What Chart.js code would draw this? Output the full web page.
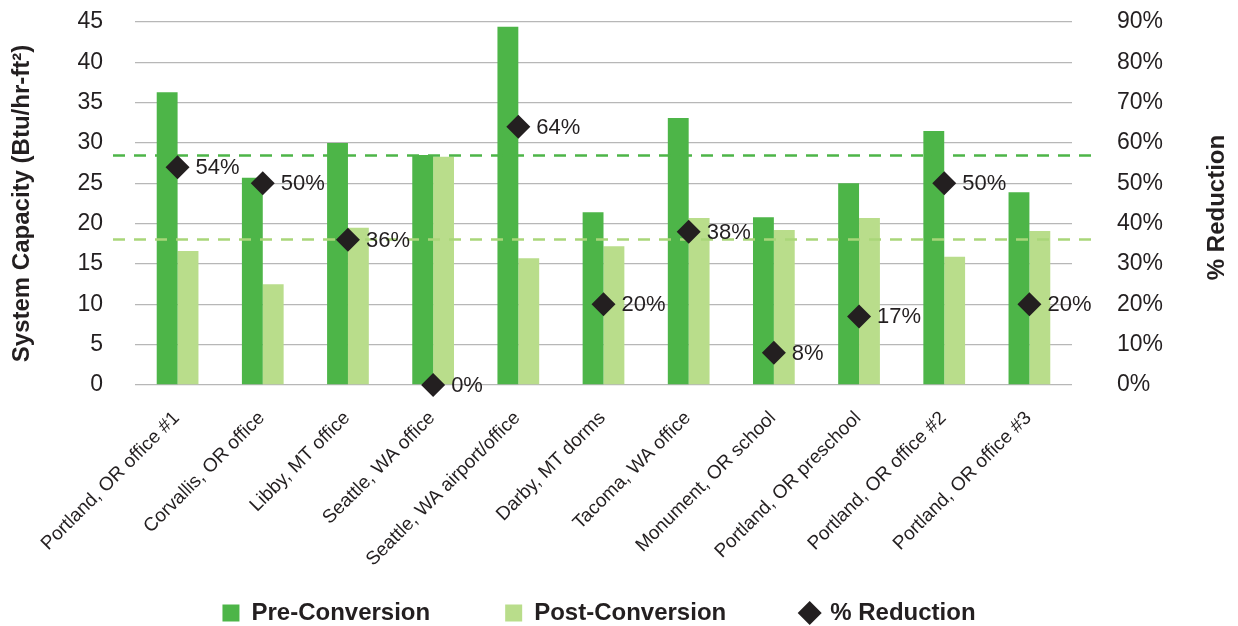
<!DOCTYPE html>
<html>
<head>
<meta charset="utf-8">
<script src="https://cdn.jsdelivr.net/npm/chart.js@4"></script>
<style>
  html, body { margin: 0; padding: 0; background: #fff; }
</style>
</head>
<body>
<canvas id="chart" width="1238" height="626"></canvas>
<script>
const sites = [
  "Portland, OR office #1", "Corvallis, OR office", "Libby, MT office",
  "Seattle, WA office", "Seattle, WA airport/office", "Darby, MT dorms",
  "Tacoma, WA office", "Monument, OR school", "Portland, OR preschool",
  "Portland, OR office #2", "Portland, OR office #3"
];
const preConversion  = [36.3, 25.7, 30.0, 28.5, 44.4, 21.4, 33.1, 20.8, 25.0, 31.5, 23.9];
const postConversion = [16.6, 12.5, 19.5, 28.3, 15.7, 17.2, 20.7, 19.2, 20.7, 15.9, 19.1];
const reduction      = [54, 50, 36, 0, 64, 20, 38, 8, 17, 50, 20];

// averages shown as dashed lines
const preAverage  = 28.5;
const postAverage = 18.1;

const green      = "#4db548";
const lightGreen = "#b9dd8b";
const lightDash  = "#a9d679";
const dark       = "#231f20";
const clear      = "rgba(0,0,0,0)";
const FONT       = '"Liberation Sans", Arial, Helvetica, sans-serif';

Chart.defaults.font.family = FONT;
Chart.defaults.color = dark;

// dashed average lines, drawn just before the diamonds so they sit over the bars
const averageLines = {
  id: 'averageLines',
  beforeDatasetDraw(chart, args) {
    if (args.index !== 2) return;
    const { ctx, chartArea, scales: { y } } = chart;
    ctx.save();
    ctx.lineWidth = 2.5;
    ctx.setLineDash([12, 9]);
    [[preAverage, green], [postAverage, lightDash]].forEach(([v, c]) => {
      const py = Math.round(y.getPixelForValue(v)) + 0.5;
      ctx.strokeStyle = c;
      ctx.beginPath();
      ctx.moveTo(chartArea.left - 22, py);
      ctx.lineTo(chartArea.right + 25, py);
      ctx.stroke();
    });
    ctx.restore();
  }
};

// "54%" etc. next to each diamond
const reductionLabels = {
  id: 'reductionLabels',
  afterDatasetsDraw(chart) {
    const { ctx } = chart;
    const meta = chart.getDatasetMeta(2);
    ctx.save();
    ctx.font = '22px ' + FONT;
    ctx.fillStyle = dark;
    ctx.textAlign = 'left';
    ctx.textBaseline = 'middle';
    meta.data.forEach((pt, i) => {
      ctx.fillText(reduction[i] + '%', pt.x + 18, pt.y + 1);
    });
    ctx.restore();
  }
};

// right axis title reads bottom-to-top like the left one
const rightTitle = {
  id: 'rightTitle',
  afterDraw(chart) {
    const { ctx, chartArea } = chart;
    ctx.save();
    ctx.translate(chart.width - 21, (chartArea.top + chartArea.bottom) / 2 + 4);
    ctx.rotate(-Math.PI / 2);
    ctx.font = 'bold 24px ' + FONT;
    ctx.fillStyle = dark;
    ctx.textAlign = 'center';
    ctx.textBaseline = 'middle';
    ctx.fillText('% Reduction', 0, 0);
    ctx.restore();
  }
};

const chart = new Chart(document.getElementById('chart'), {
  type: 'bar',
  data: {
    labels: sites,
    datasets: [
      {
        label: 'Pre-Conversion',
        data: preConversion,
        backgroundColor: green,
        borderWidth: 0,
        pointStyle: 'rect',
        categoryPercentage: 0.49,
        barPercentage: 1,
        yAxisID: 'y',
        order: 1
      },
      {
        label: 'Post-Conversion',
        data: postConversion,
        backgroundColor: lightGreen,
        borderWidth: 0,
        pointStyle: 'rect',
        categoryPercentage: 0.49,
        barPercentage: 1,
        yAxisID: 'y',
        order: 2
      },
      {
        type: 'line',
        label: '% Reduction',
        data: reduction,
        showLine: false,
        pointStyle: 'rectRot',
        pointRadius: 12,
        backgroundColor: dark,
        borderColor: dark,
        borderWidth: 0,
        yAxisID: 'y1',
        clip: false,
        order: 0
      }
    ]
  },
  options: {
    responsive: false,
    animation: false,
    events: [],
    layout: { padding: { top: 22, bottom: -9, left: 0, right: 40 } },
    plugins: {
      tooltip: { enabled: false },
      legend: {
        position: 'bottom',
        labels: {
          usePointStyle: true,
          boxWidth: 17,
          boxHeight: 17,
          padding: 75,
          color: dark,
          font: { size: 24, weight: 'bold' },
          sort: (a, b) => a.datasetIndex - b.datasetIndex
        }
      }
    },
    scales: {
      x: {
        grid: { display: false, drawTicks: false },
        border: { display: false },
        ticks: {
          autoSkip: false,
          minRotation: 45,
          maxRotation: 45,
          padding: 22,
          labelOffset: -1,
          color: dark,
          font: { size: 19 }
        },
        afterFit: s => {
          s.height = 141;
          // let the long rotated labels run down past the axis box
          s._computeLabelArea = () => undefined;
        }
      },
      y: {
        position: 'left',
        min: 0,
        max: 45,
        ticks: { stepSize: 5, padding: 8, color: dark, font: { size: 23 } },
        grid: { color: '#b7b7b7', lineWidth: 1.3, drawTicks: true, tickLength: 24, tickColor: clear },
        border: { display: false },
        title: {
          display: true,
          text: 'System Capacity (Btu/hr-ft²)',
          color: dark,
          font: { size: 24, weight: 'bold' },
          padding: { top: 8, bottom: 0 }
        },
        afterFit: s => { s.width = 135; }
      },
      y1: {
        position: 'right',
        min: 0,
        max: 90,
        ticks: {
          stepSize: 10,
          padding: 8,
          color: dark,
          font: { size: 23 },
          callback: v => v + '%'
        },
        grid: { display: true, color: clear, drawOnChartArea: false, drawTicks: true, tickLength: 37, tickColor: clear },
        border: { display: false },
        afterFit: s => { s.width = 126; }
      }
    }
  },
  plugins: [averageLines, reductionLabels, rightTitle]
});
</script>
</body>
</html>
